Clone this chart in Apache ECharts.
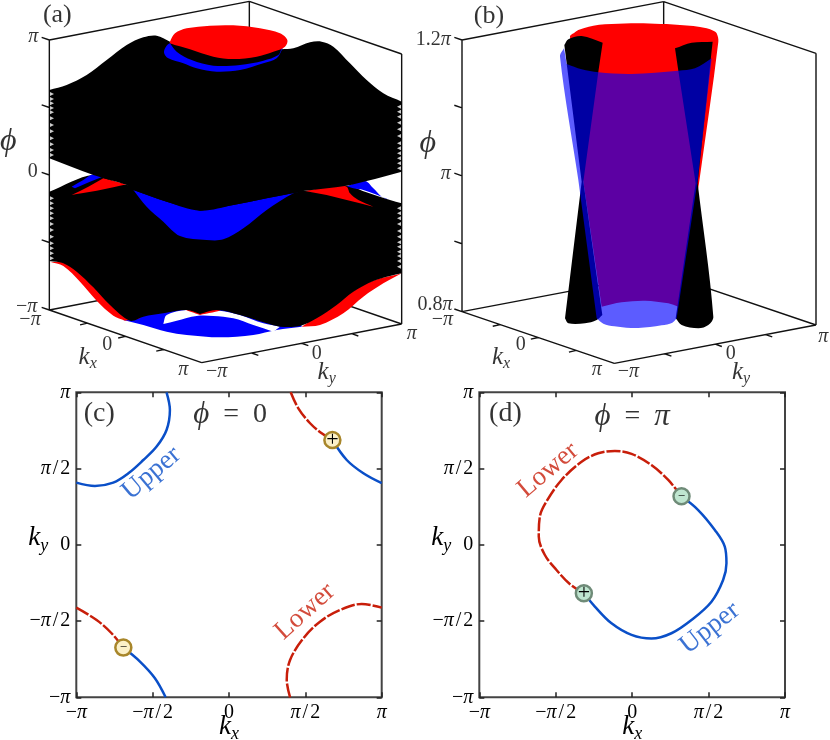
<!DOCTYPE html>
<html>
<head>
<meta charset="utf-8">
<style>
html, body { margin: 0; padding: 0; background: #fff; }
#chart1 { width: 830px; height: 740px; }
</style>
<script src="https://cdn.jsdelivr.net/npm/echarts@6/dist/echarts.min.js"></script>
</head>
<body>
<div id="chart1"></div>
<script>
// panels (c) and (d): curves in units of pi
var cUpperTop = [[-0.409,1],[-0.387,0.884],[-0.409,0.753],[-0.474,0.644],[-0.561,0.556],[-0.659,0.469],[-0.758,0.408],[-0.878,0.386],[-1,0.408]];
var cUpperRight = [[0.677,0.687],[0.771,0.556],[0.88,0.469],[1,0.404]];
var cLowerRight = [[0.404,1],[0.454,0.895],[0.531,0.797],[0.607,0.731],[0.677,0.687]];
var cLowerLeft = [[-1,-0.412],[-0.867,-0.493],[-0.769,-0.58],[-0.692,-0.674]];
var cUpperLeft = [[-0.692,-0.674],[-0.583,-0.766],[-0.485,-0.875],[-0.415,-1]];
var cLowerBottom = [[0.4,-1],[0.378,-0.886],[0.4,-0.755],[0.487,-0.613],[0.596,-0.504],[0.727,-0.427],[0.869,-0.388],[1,-0.412]];
var cNodes = [[0.677,0.687,'+'],[-0.692,-0.674,'−']];

var dLower = [[-0.316,-0.318],[-0.408,-0.257],[-0.495,-0.165],[-0.571,-0.067],[-0.611,0.054],[-0.604,0.185],[-0.561,0.283],[-0.462,0.425],[-0.331,0.545],[-0.222,0.6],[-0.113,0.615],[-0.004,0.596],[0.126,0.523],[0.236,0.425],[0.323,0.318]];
var dUpper = [[0.323,0.318],[0.432,0.228],[0.541,0.097],[0.606,-0.012],[0.617,-0.121],[0.595,-0.231],[0.519,-0.373],[0.388,-0.493],[0.257,-0.58],[0.126,-0.615],[-0.004,-0.591],[-0.135,-0.515],[-0.244,-0.405],[-0.316,-0.318]];
var dNodes = [[-0.316,-0.318,'+'],[0.323,0.318,'−']];

var kTicks = [-1, -0.5, 0, 0.5, 1];
var phiTicksA = [0, 0.25, 0.5, 0.75, 1];
var phiLabelsB = ['0.8π', '', 'π', '', '1.2π'];

// panels (a) and (b): surface silhouettes, a doubled point is a sharp corner
var aBlueBottom = [[370,960],[370,960],[430,975],[500,995],[560,1005],[660,1012],[760,1005],[830,990],[905,980],[905,980],[900,960],[700,920],[500,930]];
var aWhiteGap = [[490,972],[490,972],[500,945],[560,930],[660,932],[720,945],[790,970],[840,980],[840,980],[820,995],[820,995],[760,975],[700,955],[640,948],[590,948],[530,962]];
var aRedSmall = [[555,928],[600,945],[600,945],[660,931],[600,925]];
var aRedLeft = [[150,785],[150,785],[190,798],[240,845],[290,902],[340,947],[375,962],[375,962],[420,950],[300,850],[200,790]];
var aRedRight = [[905,980],[905,980],[960,975],[1030,940],[1090,890],[1150,850],[1205,820],[1205,820],[1100,850],[950,950]];
var aLowerSheet = [[148,575],[148,575],[280,525],[380,555],[910,573],[1040,557],[1095,575],[1170,600],[1205,610],[1205,610],[1205,820],[1205,820],[1170,828],[1120,843],[1060,875],[1010,915],[950,955],[900,978],[840,980],[800,970],[720,945],[650,930],[600,942],[600,942],[560,930],[490,940],[430,950],[390,962],[330,915],[280,862],[230,815],[190,790],[148,783],[148,783]];
var aBlueCentre = [[400,570],[400,570],[500,605],[600,632],[700,615],[800,595],[910,573],[910,573],[880,580],[800,630],[730,685],[670,718],[620,720],[540,708],[490,665],[440,620]];
var aBlueWingLeft = [[215,560],[215,560],[250,540],[280,523],[308,530],[308,530],[270,545],[225,565],[225,565]];
var aBlueWingRight = [[1040,558],[1040,558],[1095,543],[1120,565],[1145,590],[1170,600],[1170,600],[1090,570],[1060,565]];
var aRedWingLeft = [[215,585],[215,585],[265,560],[310,535],[310,535],[380,553],[380,553],[340,562],[290,572],[245,580]];
var aRedWingRight = [[915,573],[915,573],[980,585],[1040,600],[1120,620],[1120,620],[1075,600],[1050,580],[1040,560],[1010,555],[960,565]];
var aUpperSheet = [[148,270],[148,270],[200,255],[260,225],[320,180],[380,135],[430,112],[470,107],[510,125],[510,125],[845,148],[845,148],[880,145],[930,127],[965,125],[1000,140],[1050,190],[1100,240],[1150,280],[1205,305],[1205,305],[1205,515],[1205,515],[1150,530],[1100,543],[1040,557],[910,573],[910,573],[800,595],[700,615],[600,632],[600,632],[500,605],[400,570],[400,570],[380,555],[280,525],[148,475],[148,475]];
var aBlueRing = [[510,130],[492,155],[505,175],[550,190],[590,205],[650,215],[720,210],[790,190],[830,175],[848,145],[848,145],[800,130],[600,120]];
var aBlackInner = [[510,130],[510,130],[845,145],[845,145],[835,165],[790,182],[720,195],[640,197],[575,180],[530,155]];
var aRedBlob = [[510,125],[525,100],[560,85],[630,77],[700,76],[780,85],[840,100],[862,120],[855,140],[820,155],[770,170],[700,177],[640,170],[570,148],[510,130]];
var aTeethLeft = [282,297,310,324,337,355,375,394,415,433,450,465,595,610,625,640,655,672,690,710,730,745,760,775];
var aTeethRight = [320,335,350,368,388,408,430,445,460,475,490,505,625,640,655,672,693,710,727,740,755,768,783,800];

var bRed = [[465,110],[478,98],[490,90],[508,84],[535,77],[570,73],[610,71],[648,70],[685,70],[720,71],[755,72],[795,75],[835,78],[875,85],[895,92],[905,100],[910,125],[852,550],[852,550],[790,920],[790,920],[760,910],[690,902],[620,907],[560,920],[560,920],[505,545],[505,545]];
var bBlackLeft = [[448,135],[448,135],[460,118],[500,108],[563,128],[563,128],[550,215],[550,215],[505,545],[505,545],[562,945],[562,945],[545,960],[510,970],[460,970],[450,955],[450,955],[500,545],[500,545]];
var bBlackRight = [[780,145],[780,145],[830,128],[893,125],[893,125],[888,170],[888,170],[848,550],[848,550],[895,950],[880,975],[850,985],[800,975],[782,955],[782,955],[842,550],[842,550],[790,212],[790,212]];
var bBlue = [[435,170],[447,145],[447,145],[455,192],[455,192],[500,208],[550,217],[650,222],[790,212],[840,205],[890,175],[890,175],[848,540],[848,540],[785,955],[785,955],[772,968],[740,976],[705,981],[670,984],[634,983],[598,979],[565,971],[545,955],[545,955],[490,540],[490,540]];

var boxA = {o: [148,930], kx: [457,158], ky: [600,-116], h: 810};
var boxB = {o: [141,935], kx: [457,155], ky: [605,-115], h: 815};

var serif = '"Liberation Serif", "DejaVu Serif", serif';
var BLUE = '#0a4fc8', RED = '#c81e0a';
var richText = {
    n: {fontFamily: serif, fontSize: 20, color: '#000'},
    sl: {fontFamily: serif, fontSize: 20, color: '#000', padding: [0, 2, 0, 2]},
    i: {fontFamily: serif, fontSize: 20, fontStyle: 'italic', color: '#000'},
    k: {fontFamily: serif, fontSize: 25, fontStyle: 'italic', color: '#000', verticalAlign: 'top'},
    s: {fontFamily: serif, fontSize: 16, fontStyle: 'italic', color: '#000', verticalAlign: 'bottom', padding: [11, 0, 0, 0]},
    k2: {fontFamily: serif, fontSize: 27, fontStyle: 'italic', color: '#000', verticalAlign: 'top'},
    s2: {fontFamily: serif, fontSize: 18, fontStyle: 'italic', color: '#000', verticalAlign: 'bottom', padding: [12, 0, 0, 0]},
    p: {fontFamily: serif, fontSize: 26, color: '#000'},
    t: {fontFamily: serif, fontSize: 28, color: '#000'},
    ti: {fontFamily: serif, fontSize: 31, fontStyle: 'italic', color: '#000'},
    big: {fontFamily: serif, fontSize: 32, fontStyle: 'italic', color: '#000'}
};

function project(box, kx, ky, z) {
    var a = (kx + 1) / 2, b = (ky + 1) / 2;
    return [box.o[0] + a * box.kx[0] + b * box.ky[0], box.o[1] + a * box.kx[1] + b * box.ky[1] - z * box.h];
}

function polygon(grid, points, color, z) {
    return {
        type: 'custom', coordinateSystem: 'cartesian2d', xAxisIndex: grid, yAxisIndex: grid,
        silent: true, clip: false, z: z, data: points, encode: {x: 0, y: 1},
        renderItem: function (params, api) {
            if (params.dataIndex !== 0) { return null; }
            var pts = points.map(function (p) { return api.coord(p); });
            return {type: 'polygon', shape: {points: pts, smooth: 0.33}, style: {fill: color}};
        }
    };
}

function segments(grid, list, width, z) {
    var data = [];
    list.forEach(function (s) { data.push(s[0], s[1], null); });
    return {
        type: 'line', xAxisIndex: grid, yAxisIndex: grid, showSymbol: false, silent: true, clip: false, z: z,
        data: data, connectNulls: false, lineStyle: {color: '#111', width: width}
    };
}

function boxFrame(grid, box) {
    var lines = [
        [project(box,-1,-1,0), project(box,1,-1,0)], [project(box,1,-1,0), project(box,1,1,0)],
        [project(box,-1,-1,0), project(box,-1,1,0)], [project(box,-1,1,0), project(box,1,1,0)],
        [project(box,-1,-1,0), project(box,-1,-1,1)], [project(box,-1,1,0), project(box,-1,1,1)],
        [project(box,1,1,0), project(box,1,1,1)],
        [project(box,-1,-1,1), project(box,-1,1,1)], [project(box,-1,1,1), project(box,1,1,1)]
    ];
    kTicks.slice(1, 4).forEach(function (t) {
        var a = project(box, t, -1, 0);
        lines.push([a, [a[0] - 22, a[1] + 5]]);
        var b = project(box, 1, t, 0);
        lines.push([b, [b[0] + 20, b[1] + 7]]);
    });
    phiTicksA.forEach(function (t) {
        var c = project(box, -1, -1, t);
        lines.push([c, [c[0] - 23, c[1] - 8]]);
    });
    return segments(grid, lines, 1.4, 1);
}

function labels(grid, items, z) {
    return {
        type: 'scatter', xAxisIndex: grid, yAxisIndex: grid, symbolSize: 0, silent: true, clip: false, z: z || 30,
        data: items.map(function (it) {
            return {
                value: [it[0], it[1]],
                label: {
                    show: true, position: 'inside', formatter: it[2], rich: richText,
                    rotate: it[3] || 0, color: it[4] || '#000', fontFamily: serif, fontSize: it[5] || 20
                }
            };
        })
    };
}

function teeth(grid, x, ys, rotate) {
    return {
        type: 'scatter', xAxisIndex: grid, yAxisIndex: grid, symbol: 'triangle', symbolSize: [4, 4], symbolRotate: rotate,
        silent: true, z: 20, itemStyle: {color: '#fff'},
        data: ys.map(function (y) { return [x, y]; })
    };
}

function curve(grid, data, color, dashed) {
    return {
        type: 'line', xAxisIndex: grid, yAxisIndex: grid, data: data, smooth: 0.35, showSymbol: false, silent: true, z: 5,
        lineStyle: {color: color, width: 2.5, type: dashed ? [14, 2] : 'solid'}
    };
}

function nodes(grid, data, fill, border) {
    return {
        type: 'scatter', xAxisIndex: grid, yAxisIndex: grid, symbolSize: 16, silent: true, z: 8,
        itemStyle: {color: fill, borderColor: border, borderWidth: 2.5, opacity: 1},
        data: data.map(function (n) {
            return {
                value: [n[0], n[1]],
                label: {show: true, position: 'inside', formatter: n[2], color: '#000', fontFamily: serif, fontSize: n[2] === '+' ? 22 : 13}
            };
        })
    };
}

function piLabel(v) {
    if (v === 0) { return '{n|0}'; }
    var sign = v < 0 ? '{n|−}' : '';
    return Math.abs(v) === 1 ? sign + '{i|π}' : sign + '{i|π}{sl|/}{n|2}';
}

function mathLabel(s) {
    return s === '' ? '' : s.replace(/π/, '{i|π}').replace(/^([−0-9.]+)/, '{n|$1}');
}

function hiddenAxes(gridIndex) {
    return {
        x: {gridIndex: gridIndex, type: 'value', min: 0, max: 1245, show: false},
        y: {gridIndex: gridIndex, type: 'value', min: 0, max: 1170, inverse: true, show: false}
    };
}

function squareAxes(gridIndex) {
    var tick = {show: true, inside: true, length: 5, lineStyle: {color: '#222', width: 1.5}};
    var base = {gridIndex: gridIndex, type: 'value', min: -1, max: 1, interval: 0.5, splitLine: {show: false}, axisLine: {show: false, onZero: false}, axisTick: tick};
    var lab = {show: true, formatter: piLabel, rich: richText, hideOverlap: false, showMinLabel: true, showMaxLabel: true};
    var nameK = function (s) { return '{k2|k}{s2|' + s + '}'; };
    return {
        xs: [
            Object.assign({}, base, {position: 'bottom', axisLabel: Object.assign({margin: 5}, lab), name: nameK('x'), nameLocation: 'middle', nameGap: 16, nameMoveOverlap: false, nameTextStyle: {rich: richText}}),
            Object.assign({}, base, {position: 'top', axisLabel: {show: false}})
        ],
        ys: [
            Object.assign({}, base, {position: 'left', axisLabel: Object.assign({margin: 6}, lab), name: nameK('y'), nameLocation: 'middle', nameGap: 28, nameRotate: 0, nameMoveOverlap: false, nameTextStyle: {rich: richText, padding: [0, 0, 10, 0]}}),
            Object.assign({}, base, {position: 'right', axisLabel: {show: false}})
        ]
    };
}

var chart1 = echarts.init(document.getElementById('chart1'), null, {renderer: 'canvas'});
drawChart();

function drawChart() {
    var hA = hiddenAxes(0), hB = hiddenAxes(1), sC = squareAxes(2), sD = squareAxes(3);
    // axis indexes of panels c, d: 2 (main) + 3 (mirror) and 4 + 5
    var series = [];
    series.push(boxFrame(0, boxA));
    [
        [aBlueBottom, '#0000ff'], [aWhiteGap, '#ffffff'], [aRedSmall, '#ff0000'], [aRedLeft, '#ff0000'], [aRedRight, '#ff0000'],
        [aLowerSheet, '#000000'], [aBlueCentre, '#0000ff'], [aBlueWingLeft, '#0000ff'], [aBlueWingRight, '#0000ff'],
        [aRedWingLeft, '#ff0000'], [aRedWingRight, '#ff0000'], [aUpperSheet, '#000000'], [aBlueRing, '#0000ff'],
        [aBlackInner, '#000000'], [aRedBlob, '#ff0000']
    ].forEach(function (p, i) {
        series.push(polygon(0, p[0], p[1], 2 + i * 0.5));
    });
    series.push(teeth(0, 156, aTeethLeft, -90), teeth(0, 1197, aTeethRight, 90));

    series.push(boxFrame(1, boxB));
    [
        [bRed, '#ff0000'], [bBlackLeft, '#000000'], [bBlackRight, '#000000'], [bBlue, 'rgba(0,0,255,0.64)']
    ].forEach(function (p, i) {
        series.push(polygon(1, p[0], p[1], 2 + i * 0.5));
    });

    series.push(labels(0, [
        [172, 45, '{p|(a)}'], [100, 110, '{i|π}'], [98, 515, '{n|0}'], [80, 920, '{n|−}{i|π}'], [90, 958, '{n|−}{i|π}'],
        [322, 1035, '{n|0}'], [550, 1110, '{i|π}'], [650, 1115, '{n|−}{i|π}'], [950, 1060, '{n|0}'], [1235, 1000, '{i|π}'],
        [263, 1075, '{k|k}{s|x}'], [980, 1120, '{k|k}{s|y}'], [25, 425, '{big|ϕ}']
    ]));
    series.push(labels(1, [
        [222, 50, '{p|(b)}'], [55, 120, mathLabel(phiLabelsB[4])], [92, 520, mathLabel(phiLabelsB[2])], [60, 915, mathLabel(phiLabelsB[0])], [82, 960, '{n|−}{i|π}'],
        [317, 1035, '{n|0}'], [545, 1110, '{i|π}'], [640, 1115, '{n|−}{i|π}'], [947, 1060, '{n|0}'], [1225, 1010, '{i|π}'],
        [258, 1075, '{k|k}{s|x}'], [978, 1120, '{k|k}{s|y}'], [38, 430, '{big|ϕ}']
    ]));

    series.push(curve(2, cUpperTop, BLUE), curve(2, cUpperRight, BLUE), curve(2, cUpperLeft, BLUE));
    series.push(curve(2, cLowerRight, RED, true), curve(2, cLowerLeft, RED, true), curve(2, cLowerBottom, RED, true));
    series.push(nodes(2, cNodes, '#fbf0c8', '#a8862a'));
    series.push(labels(2, [
        [-0.85, 0.862, '{t|(c)}'], [0.007, 0.851, '{ti|ϕ}{t|\u2002=\u20020}'],
        [-0.507, 0.469, 'Upper', 40, BLUE, 27], [0.498, -0.438, 'Lower', 42, RED, 27]
    ]));

    series.push(curve(4, dUpper, BLUE), curve(4, dLower, RED, true));
    series.push(nodes(4, dNodes, '#bfe6d0', '#6f8b78'));
    series.push(labels(4, [
        [-0.829, 0.862, '{t|(d)}'], [0, 0.84, '{ti|ϕ}{t|\u2002=\u2002}{ti|π}'],
        [-0.55, 0.49, 'Lower', 40, RED, 27], [0.508, -0.547, 'Upper', 38, BLUE, 27]
    ]));

    var box = {outerBoundsMode: 'none', show: true, borderColor: '#444', borderWidth: 2, backgroundColor: 'transparent'};
    var option = {
        animation: false,
        backgroundColor: '#fff',
        grid: [
            {left: 0, top: 0, width: 415, height: 390, outerBoundsMode: 'none'},
            {left: 415, top: 0, width: 415, height: 390, outerBoundsMode: 'none'},
            Object.assign({left: 76.3, top: 392.3, width: 305.4, height: 305}, box),
            Object.assign({left: 479.3, top: 392.3, width: 305.7, height: 305}, box)
        ],
        xAxis: [hA.x, hB.x].concat(sC.xs, sD.xs),
        yAxis: [hA.y, hB.y].concat(sC.ys, sD.ys),
        series: series
    };
    chart1.setOption(option, true);
}
</script>
</body>
</html>
